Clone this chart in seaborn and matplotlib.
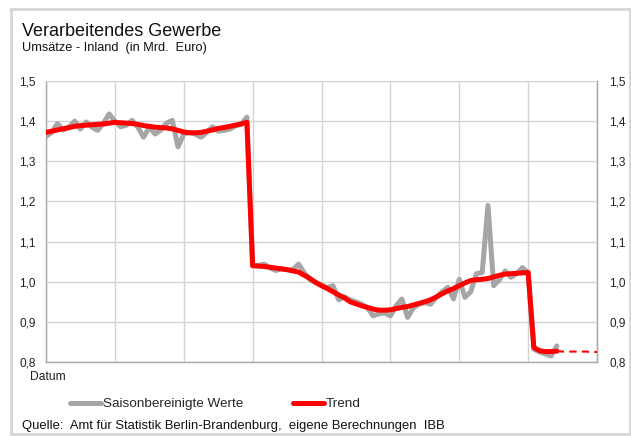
import matplotlib
matplotlib.use("Agg")
import matplotlib.pyplot as plt
from matplotlib.lines import Line2D
from matplotlib.patches import Rectangle
import seaborn as sns
import pandas as pd
import numpy as np

# ---- data ----
months = list(range(90))
saison = [
    1.362, 1.372, 1.394, 1.378, 1.385, 1.400, 1.380, 1.398, 1.385, 1.377, 1.395, 1.418,
    1.400, 1.386, 1.390, 1.402, 1.385, 1.360, 1.385, 1.368, 1.378, 1.395, 1.402, 1.336,
    1.368, 1.372, 1.368, 1.360, 1.372, 1.386, 1.375, 1.377, 1.380, 1.388, 1.392, 1.410,
    1.040, 1.040, 1.044, 1.035, 1.028, 1.032, 1.030, 1.030, 1.044, 1.022, 1.005, 0.998,
    0.992, 0.985, 0.990, 0.955, 0.962, 0.955, 0.950, 0.944, 0.935, 0.915, 0.920, 0.922,
    0.915, 0.940, 0.957, 0.911, 0.935, 0.944, 0.948, 0.944, 0.961, 0.975, 0.986, 0.957,
    1.006, 0.961, 0.975, 1.020, 1.023, 1.190, 0.990, 1.005, 1.027, 1.011, 1.020, 1.035,
    1.023, 0.832, 0.825, 0.820, 0.815, 0.840,
]
trend = [
    1.372, 1.375, 1.378, 1.381, 1.384, 1.387, 1.389, 1.390, 1.391, 1.392, 1.393, 1.395,
    1.397, 1.396, 1.395, 1.394, 1.392, 1.389, 1.387, 1.385, 1.384, 1.383, 1.381, 1.377,
    1.373, 1.371, 1.371, 1.372, 1.375, 1.378, 1.382, 1.384, 1.387, 1.390, 1.393, 1.397,
    1.040, 1.039, 1.038, 1.036, 1.034, 1.032, 1.030, 1.027, 1.024, 1.016, 1.008, 0.998,
    0.990, 0.983, 0.975, 0.967, 0.960, 0.950, 0.945, 0.940, 0.936, 0.932, 0.929, 0.929,
    0.930, 0.933, 0.936, 0.938, 0.942, 0.946, 0.950, 0.955, 0.962, 0.970, 0.977, 0.983,
    0.990, 0.997, 1.003, 1.005, 1.006, 1.008, 1.012, 1.016, 1.019, 1.020, 1.021, 1.022,
    1.023, 0.836, 0.828, 0.826, 0.826, 0.827,
]
forecast_months = list(range(89, 97))
forecast = [0.827, 0.826, 0.826, 0.826, 0.826, 0.826, 0.825, 0.825]

y_ticks = [0.8, 0.9, 1.0, 1.1, 1.2, 1.3, 1.4, 1.5]
y_tick_labels = ["0,8", "0,9", "1,0", "1,1", "1,2", "1,3", "1,4", "1,5"]
x_grid = list(range(0, 97, 12))

title = "Verarbeitendes Gewerbe"
subtitle = "Umsätze - Inland  (in Mrd.  Euro)"
source = "Quelle:  Amt für Statistik Berlin-Brandenburg,  eigene Berechnungen  IBB"
lbl_saison = "Saisonbereinigte Werte"
lbl_trend = "Trend"

# ---- style ----
sns.set_style("white")
plt.rcParams["font.family"] = ["Liberation Sans", "DejaVu Sans"]

W, H = 631, 436
fig = plt.figure(figsize=(W / 100, H / 100), dpi=100)
fig.patch.set_facecolor("white")

def fx(px):
    return px / W

def fy(py):
    return 1 - py / H

left, right, top, bottom = 46, 597, 81, 362
ax = fig.add_axes([fx(left), fy(bottom), fx(right) - fx(left), fy(top) - fy(bottom)])

df = pd.DataFrame({"Monat": months, "Saison": saison, "Trend": trend})
df_f = pd.DataFrame({"Monat": forecast_months, "Prognose": forecast})

GRAY = "#a6a6a6"
RED = "#ff0000"

sns.lineplot(data=df, x="Monat", y="Saison", ax=ax, color=GRAY, linewidth=3.6,
             solid_joinstyle="round", zorder=3)
sns.lineplot(data=df, x="Monat", y="Trend", ax=ax, color=RED, linewidth=3.6,
             solid_joinstyle="round", zorder=4)
sns.lineplot(data=df_f, x="Monat", y="Prognose", ax=ax, color=RED, linewidth=1.5,
             linestyle=(0, (3.5, 2.5)), zorder=4)

ax.set_xlim(0, 96)
ax.set_ylim(0.8, 1.5)
ax.set_xticks(x_grid)
ax.set_xticklabels([])
ax.set_yticks(y_ticks)
ax.set_yticklabels(y_tick_labels)
ax.set_xlabel("")
ax.set_ylabel("")
ax.grid(True, color="#d4d4d4", linewidth=1.0, zorder=0)
ax.set_axisbelow(True)
for s in ["left", "bottom", "right"]:
    ax.spines[s].set_color("#a8a8a8")
    ax.spines[s].set_linewidth(1.0)
ax.spines["top"].set_color("#d4d4d4")
ax.tick_params(axis="both", length=0)
ax.tick_params(axis="y", labelsize=8.5, labelcolor="#222222", pad=7.5)

# right-hand labels
ax2 = ax.twinx()
ax2.set_ylim(0.8, 1.5)
ax2.set_yticks(y_ticks)
ax2.set_yticklabels(y_tick_labels)
ax2.tick_params(axis="y", length=0, labelsize=8.5, labelcolor="#222222", pad=9)
ax2.grid(False)
for s in ["left", "bottom", "top"]:
    ax2.spines[s].set_visible(False)
ax2.spines["right"].set_color("#a8a8a8")

# frame around the whole chart
fig.patches.append(Rectangle((fx(11), fy(434)), fx(630) - fx(11), fy(9) - fy(434),
                             transform=fig.transFigure, fill=False,
                             edgecolor="#d6d6d6", linewidth=2))

fig.text(fx(22), fy(36), title, fontsize=13, color="#111111", va="baseline")
fig.text(fx(22), fy(51), subtitle, fontsize=9.2, color="#111111", va="baseline")
fig.text(fx(48), fy(377), "Datum", fontsize=8.7, color="#222222", ha="center", va="center")
fig.text(fx(22), fy(426), source, fontsize=9.4, color="#111111", va="center")

handles = [Line2D([], [], color=GRAY, linewidth=3.6),
           Line2D([], [], color=RED, linewidth=3.6)]
fig.legend(handles, [lbl_saison, lbl_trend], loc="center left",
           bbox_to_anchor=(fx(61), fy(404)), ncol=2, frameon=False,
           fontsize=9.7, handlelength=2.3, handletextpad=0.12, columnspacing=3.7,
           borderpad=0.2)

fig.savefig("out.png", dpi=100, facecolor="white")
